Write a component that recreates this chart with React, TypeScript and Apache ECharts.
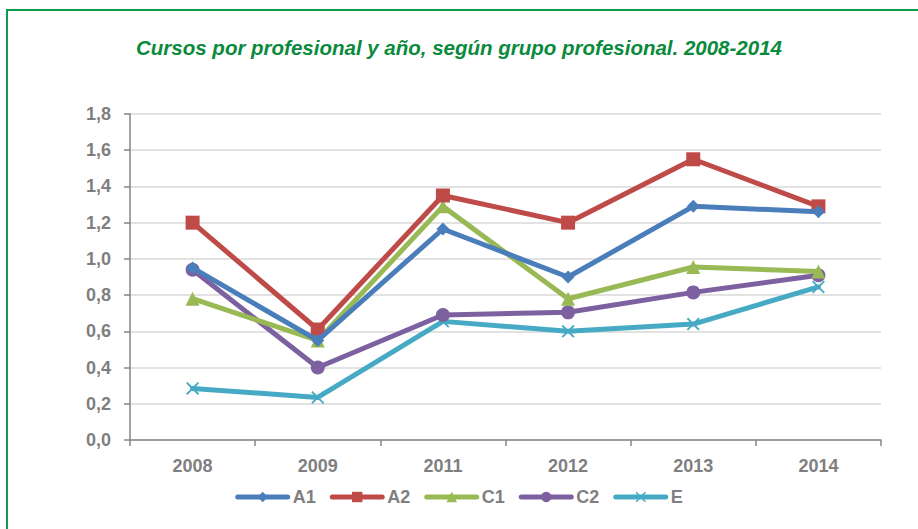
import React, { useEffect, useRef } from "react";
import * as echarts from "echarts";

const categories = ["2008", "2009", "2011", "2012", "2013", "2014"];
const seriesNames = ["A1", "A2", "C1", "C2", "E"];
const A1 = [0.95, 0.55, 1.165, 0.9, 1.29, 1.26];
const A2 = [1.2, 0.61, 1.35, 1.2, 1.55, 1.29];
const C1 = [0.78, 0.55, 1.29, 0.78, 0.955, 0.93];
const C2 = [0.94, 0.4, 0.69, 0.705, 0.815, 0.91];
const E = [0.285, 0.235, 0.655, 0.6, 0.64, 0.845];
const yTicks = [0, 0.2, 0.4, 0.6, 0.8, 1.0, 1.2, 1.4, 1.6, 1.8];

const colors = ["#4a7ebb", "#be4b48", "#98b954", "#7d60a0", "#46aac5"];
const symbols = [
  "diamond",
  "rect",
  "triangle",
  "circle",
  "path://M0,1 L1,0 L5,4 L9,0 L10,1 L6,5 L10,9 L9,10 L5,6 L1,10 L0,9 L4,5 Z",
];
const symbolSizes = [13, 14, 14, 14, 13];

export default function App() {
  const ref = useRef<HTMLDivElement>(null);
  useEffect(() => {
    document.body.style.margin = "0";
    const chart = echarts.init(ref.current!, null, { renderer: "svg" });
    const data = [A1, A2, C1, C2, E];
    const font = "'Liberation Sans', Arial, sans-serif";
    chart.setOption({
      animation: false,
      textStyle: { fontFamily: font },
      title: {
        text: "Cursos por profesional y año, según grupo profesional. 2008-2014",
        left: "center",
        top: 32,
        textStyle: {
          color: "#0a8a3c",
          fontStyle: "italic",
          fontWeight: "bold",
          fontSize: 20.5,
          fontFamily: font,
        },
      },
      graphic: [
        {
          type: "rect",
          shape: { x: 7, y: 10, width: 1000, height: 1000 },
          style: { fill: "none", stroke: "#119a48", lineWidth: 2 },
          silent: true,
        },
      ],
      legend: {
        bottom: 18,
        left: "center",
        itemWidth: 50,
        itemHeight: 13,
        itemGap: 14,
        lineStyle: { width: 5, cap: "round" },
        textStyle: { color: "#7f7f7f", fontWeight: "bold", fontSize: 18, fontFamily: font },
        data: seriesNames,
      },
      grid: { left: 130, right: 37, top: 114, bottom: 89, containLabel: false },
      xAxis: {
        type: "category",
        data: categories,
        boundaryGap: true,
        axisLine: { lineStyle: { color: "#868686", width: 1.5 } },
        axisTick: { show: true, length: 6, lineStyle: { color: "#868686", width: 1.5 } },
        axisLabel: { color: "#7f7f7f", fontWeight: "bold", fontSize: 18, margin: 17, fontFamily: font },
        splitLine: { show: false },
      },
      yAxis: {
        type: "value",
        min: 0,
        max: 1.8,
        interval: 0.2,
        axisLine: { show: true, lineStyle: { color: "#868686", width: 1.5 } },
        axisTick: { show: true, length: 6, lineStyle: { color: "#868686", width: 1.5 } },
        axisLabel: {
          color: "#7f7f7f",
          fontWeight: "bold",
          fontSize: 18,
          margin: 19,
          fontFamily: font,
          formatter: (v: number) => {
            const t = yTicks.find((x) => Math.abs(x - v) < 1e-6);
            return (t !== undefined ? t : v).toFixed(1).replace(".", ",");
          },
        },
        splitLine: { show: true, lineStyle: { color: "#d9d9d9", width: 1.5 } },
      },
      series: seriesNames.map((name, i) => ({
        name,
        type: "line",
        data: data[i],
        color: colors[i],
        symbol: symbols[i],
        symbolSize: symbolSizes[i],
        showAllSymbol: true,
        lineStyle: { width: 5, color: colors[i], cap: "round", join: "round" },
        itemStyle: { color: colors[i] },
        z: 10 - i,
      })),
    });
    return () => chart.dispose();
  }, []);
  return <div ref={ref} style={{ width: 918, height: 529 }} />;
}
